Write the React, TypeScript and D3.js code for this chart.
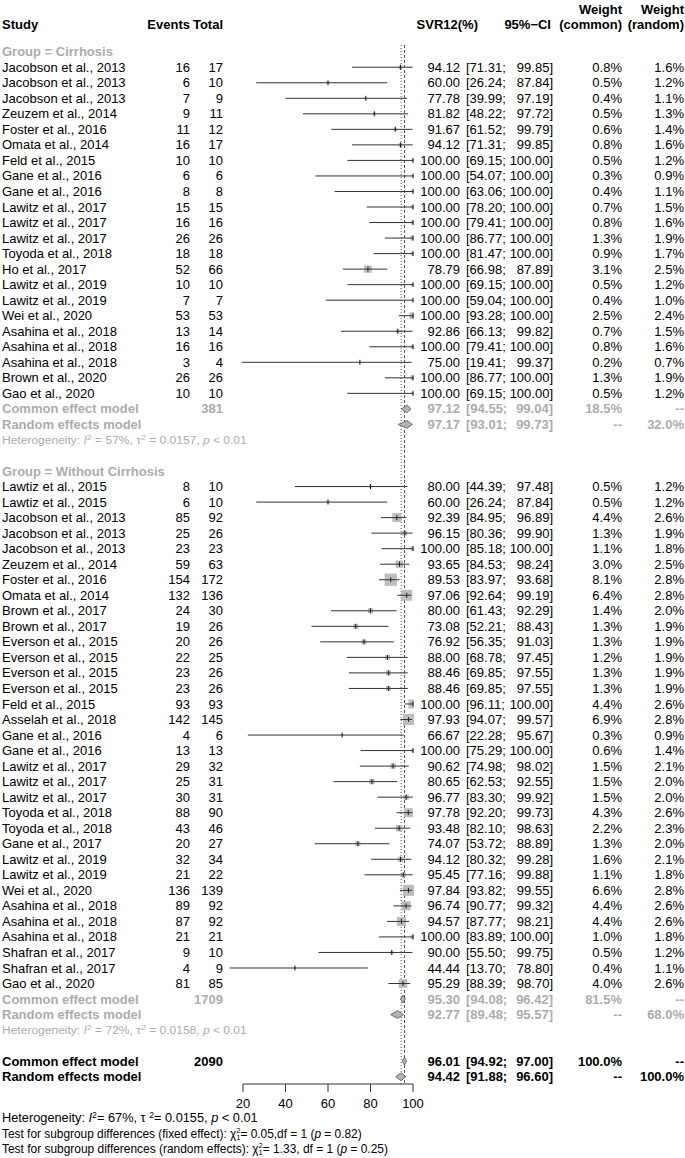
import React, { useLayoutEffect, useRef, useState } from "react";
import * as d3 from "d3";

const W = 685;
const H = 1158;

// ---------- data ----------
const cirStudies = ["Jacobson et al., 2013","Jacobson et al., 2013","Jacobson et al., 2013","Zeuzem et al., 2014","Foster et al., 2016","Omata et al., 2014","Feld et al., 2015","Gane et al., 2016","Gane et al., 2016","Lawitz et al., 2017","Lawitz et al., 2017","Lawitz et al., 2017","Toyoda et al., 2018","Ho et al., 2017","Lawitz et al., 2019","Lawitz et al., 2019","Wei et al., 2020","Asahina et al., 2018","Asahina et al., 2018","Asahina et al., 2018","Brown et al., 2020","Gao et al., 2020"];
const cirEvents = [16,6,7,9,11,16,10,6,8,15,16,26,18,52,10,7,53,13,16,3,26,10];
const cirTotal = [17,10,9,11,12,17,10,6,8,15,16,26,18,66,10,7,53,14,16,4,26,10];
const cirEst = [94.12,60.0,77.78,81.82,91.67,94.12,100,100,100,100,100,100,100,78.79,100,100,100,92.86,100,75.0,100,100];
const cirLower = [71.31,26.24,39.99,48.22,61.52,71.31,69.15,54.07,63.06,78.2,79.41,86.77,81.47,66.98,69.15,59.04,93.28,66.13,79.41,19.41,86.77,69.15];
const cirUpper = [99.85,87.84,97.19,97.72,99.79,99.85,100,100,100,100,100,100,100,87.89,100,100,100,99.82,100,99.37,100,100];
const cirWCommon = [0.8,0.5,0.4,0.5,0.6,0.8,0.5,0.3,0.4,0.7,0.8,1.3,0.9,3.1,0.5,0.4,2.5,0.7,0.8,0.2,1.3,0.5];
const cirWRandom = [1.6,1.2,1.1,1.3,1.4,1.6,1.2,0.9,1.1,1.5,1.6,1.9,1.7,2.5,1.2,1.0,2.4,1.5,1.6,0.7,1.9,1.2];

const nonStudies = ["Lawtiz et al., 2015","Lawtiz et al., 2015","Jacobson et al., 2013","Jacobson et al., 2013","Jacobson et al., 2013","Zeuzem et al., 2014","Foster et al., 2016","Omata et al., 2014","Brown et al., 2017","Brown et al., 2017","Everson et al., 2015","Everson et al., 2015","Everson et al., 2015","Everson et al., 2015","Feld et al., 2015","Asselah et al., 2018","Gane et al., 2016","Gane et al., 2016","Lawitz et al., 2017","Lawitz et al., 2017","Lawitz et al., 2017","Toyoda et al., 2018","Toyoda et al., 2018","Gane et al., 2017","Lawitz et al., 2019","Lawitz et al., 2019","Wei et al., 2020","Asahina et al., 2018","Asahina et al., 2018","Asahina et al., 2018","Shafran et al., 2017","Shafran et al., 2017","Gao et al., 2020"];
const nonEvents = [8,6,85,25,23,59,154,132,24,19,20,22,23,23,93,142,4,13,29,25,30,88,43,20,32,21,136,89,87,21,9,4,81];
const nonTotal = [10,10,92,26,23,63,172,136,30,26,26,25,26,26,93,145,6,13,32,31,31,90,46,27,34,22,139,92,92,21,10,9,85];
const nonEst = [80.0,60.0,92.39,96.15,100,93.65,89.53,97.06,80.0,73.08,76.92,88.0,88.46,88.46,100,97.93,66.67,100,90.62,80.65,96.77,97.78,93.48,74.07,94.12,95.45,97.84,96.74,94.57,100,90.0,44.44,95.29];
const nonLower = [44.39,26.24,84.95,80.36,85.18,84.53,83.97,92.64,61.43,52.21,56.35,68.78,69.85,69.85,96.11,94.07,22.28,75.29,74.98,62.53,83.3,92.2,82.1,53.72,80.32,77.16,93.82,90.77,87.77,83.89,55.5,13.7,88.39];
const nonUpper = [97.48,87.84,96.89,99.9,100,98.24,93.68,99.19,92.29,88.43,91.03,97.45,97.55,97.55,100,99.57,95.67,100,98.02,92.55,99.92,99.73,98.63,88.89,99.28,99.88,99.55,99.32,98.21,100,99.75,78.8,98.7];
const nonWCommon = [0.5,0.5,4.4,1.3,1.1,3.0,8.1,6.4,1.4,1.3,1.3,1.2,1.3,1.3,4.4,6.9,0.3,0.6,1.5,1.5,1.5,4.3,2.2,1.3,1.6,1.1,6.6,4.4,4.4,1.0,0.5,0.4,4.0];
const nonWRandom = [1.2,1.2,2.6,1.9,1.8,2.5,2.8,2.8,2.0,1.9,1.9,1.9,1.9,1.9,2.6,2.8,0.9,1.4,2.1,2.0,2.0,2.6,2.3,2.0,2.1,1.8,2.8,2.6,2.6,1.8,1.2,1.1,2.6];

const groupLabels = ["Group = Cirrhosis", "Group = Without Cirrhosis"];
const groupTotals = [381, 1709];
const groupCommonEst = [97.12, 95.3];
const groupCommonLo = [94.55, 94.08];
const groupCommonHi = [99.04, 96.42];
const groupCommonW = [18.5, 81.5];
const groupRandomEst = [97.17, 92.77];
const groupRandomLo = [93.01, 89.48];
const groupRandomHi = [99.73, 95.57];
const groupRandomW = [32.0, 68.0];
const groupI2 = ["57%", "72%"];
const groupTau2 = ["0.0157", "0.0158"];

const overallTotal = 2090;
const overallCommon = [96.01, 94.92, 97.0];
const overallRandom = [94.42, 91.88, 96.6];

const axisTicks = [20, 40, 60, 80, 100];

// ---------- layout ----------
const FONT = "'Liberation Sans', Arial, Helvetica, sans-serif";
const GRAY = "#acacac";
const x = d3.scaleLinear().domain([20, 100]).range([243, 413]);
const rowY = d3.scaleLinear().domain([0, 66]).range([51.7, 1076.7]);
const sq = d3.scaleSqrt().domain([0, 8.1]).range([0, 12.3]);

const COL = { study: 2, events: 190, total: 223, est: 460, ciL: 466, ciR: 553, wc: 622, wr: 684 };

const f2 = (v: number) => v.toFixed(2);
const fw = (v: number) => v.toFixed(1) + "%";

type Row =
  | { kind: "group"; label: string }
  | { kind: "study"; name: string; ev: number; n: number; est: number; lo: number; hi: number; wc: number; wr: number }
  | { kind: "common" | "random"; label: string; total?: number; est: number; lo: number; hi: number; wc: string; wr: string; overall: boolean }
  | { kind: "het"; i2: string; tau2: string }
  | { kind: "blank" };

function buildRows(): Row[] {
  const rows: Row[] = [];
  const groups = [
    [cirStudies, cirEvents, cirTotal, cirEst, cirLower, cirUpper, cirWCommon, cirWRandom],
    [nonStudies, nonEvents, nonTotal, nonEst, nonLower, nonUpper, nonWCommon, nonWRandom],
  ] as any[];
  groups.forEach((g, gi) => {
    rows.push({ kind: "group", label: groupLabels[gi] });
    (g[0] as string[]).forEach((name, i) => {
      rows.push({ kind: "study", name, ev: g[1][i], n: g[2][i], est: g[3][i], lo: g[4][i], hi: g[5][i], wc: g[6][i], wr: g[7][i] });
    });
    rows.push({ kind: "common", label: "Common effect model", total: groupTotals[gi], est: groupCommonEst[gi], lo: groupCommonLo[gi], hi: groupCommonHi[gi], wc: fw(groupCommonW[gi]), wr: "--", overall: false });
    rows.push({ kind: "random", label: "Random effects model", est: groupRandomEst[gi], lo: groupRandomLo[gi], hi: groupRandomHi[gi], wc: "--", wr: fw(groupRandomW[gi]), overall: false });
    rows.push({ kind: "het", i2: groupI2[gi], tau2: groupTau2[gi] });
    rows.push({ kind: "blank" });
  });
  rows.pop();
  rows.push({ kind: "blank" });
  rows.push({ kind: "common", label: "Common effect model", total: overallTotal, est: overallCommon[0], lo: overallCommon[1], hi: overallCommon[2], wc: "100.0%", wr: "--", overall: true });
  rows.push({ kind: "random", label: "Random effects model", est: overallRandom[0], lo: overallRandom[1], hi: overallRandom[2], wc: "--", wr: "100.0%", overall: true });
  return rows;
}

function FitText({ x0, y, width, fontSize, fill, children }: any) {
  const ref = useRef<SVGTextElement>(null);
  const [s, setS] = useState(1);
  useLayoutEffect(() => {
    if (ref.current) {
      const w = ref.current.getBBox().width;
      if (w > 0) setS(width / w);
    }
  }, [width]);
  return (
    <g transform={`translate(${x0},${y}) scale(${s},1)`}>
      <text ref={ref} x={0} y={0} dy="0.35em" fontSize={fontSize} fill={fill}>
        {children}
      </text>
    </g>
  );
}

function ValueCols({ y, r, fill, bold }: any) {
  const weight = bold ? "bold" : "normal";
  return (
    <g fill={fill} fontWeight={weight}>
      <text x={COL.est} y={y} dy="0.35em" textAnchor="end">{f2(r.est)}</text>
      <text x={COL.ciL} y={y} dy="0.35em">{"[" + f2(r.lo) + ";"}</text>
      <text x={COL.ciR} y={y} dy="0.35em" textAnchor="end">{f2(r.hi) + "]"}</text>
      <text x={COL.wc} y={y} dy="0.35em" textAnchor="end">{typeof r.wc === "number" ? fw(r.wc) : r.wc}</text>
      <text x={COL.wr} y={y} dy="0.35em" textAnchor="end">{typeof r.wr === "number" ? fw(r.wr) : r.wr}</text>
    </g>
  );
}

export default function App() {
  const rows = buildRows();
  const axisY = 1084;
  const refTop = 45;
  return (
    <svg width={W} height={H} style={{ position: "absolute", left: 0, top: 0, background: "#fff" }} fontFamily={FONT} fontSize={13}>
      <defs>
        <clipPath id="plotclip">
          <rect x={150} y={0} width={414 - 150} height={H} />
        </clipPath>
      </defs>
      {/* header */}
      <g fontWeight="bold" fill="#000">
        <text x={COL.wc} y={9} dy="0.35em" textAnchor="end">Weight</text>
        <text x={COL.wr} y={9} dy="0.35em" textAnchor="end">Weight</text>
        <text x={COL.study} y={24} dy="0.35em">Study</text>
        <text x={COL.events} y={24} dy="0.35em" textAnchor="end">Events</text>
        <text x={COL.total} y={24} dy="0.35em" textAnchor="end">Total</text>
        <text x={478} y={24} dy="0.35em" textAnchor="end">SVR12(%)</text>
        <text x={551} y={24} dy="0.35em" textAnchor="end">95%−CI</text>
        <text x={COL.wc} y={24} dy="0.35em" textAnchor="end">(common)</text>
        <text x={COL.wr} y={24} dy="0.35em" textAnchor="end">(random)</text>
      </g>

      {/* reference lines */}
      <line x1={x(overallRandom[0])} x2={x(overallRandom[0])} y1={refTop} y2={axisY} stroke="#555" strokeWidth={1} strokeDasharray="1,2" />
      <line x1={x(overallCommon[0])} x2={x(overallCommon[0])} y1={refTop} y2={axisY} stroke="#555" strokeWidth={1} strokeDasharray="3,2" />

      {rows.map((r, i) => {
        const y = rowY(i);
        if (r.kind === "group") {
          return (
            <text key={i} x={COL.study} y={y} dy="0.35em" fontWeight="bold" fill={GRAY}>{r.label}</text>
          );
        }
        if (r.kind === "study") {
          const s = Math.max(sq(r.wc), 1.5);
          return (
            <g key={i}>
              <text x={COL.study} y={y} dy="0.35em">{r.name}</text>
              <text x={COL.events} y={y} dy="0.35em" textAnchor="end">{r.ev}</text>
              <text x={COL.total} y={y} dy="0.35em" textAnchor="end">{r.n}</text>
              <rect clipPath="url(#plotclip)" x={x(r.est) - s / 2} y={y - s / 2} width={s} height={s} fill="#bdbdbd" />
              <line x1={x(r.lo)} x2={x(r.hi)} y1={y} y2={y} stroke="#333" strokeWidth={1} />
              <line x1={x(r.est)} x2={x(r.est)} y1={y - 2.5} y2={y + 2.5} stroke="#222" strokeWidth={1} />
              <ValueCols y={y} r={r} fill="#000" bold={false} />
            </g>
          );
        }
        if (r.kind === "common" || r.kind === "random") {
          const fill = r.overall ? "#000" : GRAY;
          const h = 3.9;
          const d = `M${x(r.lo)},${y} L${x(r.est)},${y - h} L${x(r.hi)},${y} L${x(r.est)},${y + h} Z`;
          return (
            <g key={i}>
              <text x={COL.study} y={y} dy="0.35em" fontWeight="bold" fill={fill}>{r.label}</text>
              {r.total !== undefined && (
                <text x={COL.total} y={y} dy="0.35em" textAnchor="end" fontWeight="bold" fill={fill}>{r.total}</text>
              )}
              <path d={d} fill="#b3b3b3" stroke="#555" strokeWidth={0.8} />
              <ValueCols y={y} r={r} fill={fill} bold={true} />
            </g>
          );
        }
        if (r.kind === "het") {
          return (
            <FitText key={i} x0={COL.study} y={y} width={245} fontSize={11} fill={GRAY}>
              <tspan>Heterogeneity: </tspan>
              <tspan fontStyle="italic">I</tspan>
              <tspan dy={-4} fontSize={8}>2</tspan>
              <tspan dy={4}>{` = ${r.i2}, τ`}</tspan>
              <tspan dy={-4} fontSize={8}>2</tspan>
              <tspan dy={4}>{` = ${r.tau2}, `}</tspan>
              <tspan fontStyle="italic">p</tspan>
              <tspan>{" < 0.01"}</tspan>
            </FitText>
          );
        }
        return null;
      })}

      {/* axis */}
      <g>
        <line x1={x(axisTicks[0])} x2={x(axisTicks[axisTicks.length - 1])} y1={axisY} y2={axisY} stroke="#333" />
        {axisTicks.map((t) => (
          <g key={t}>
            <line x1={x(t)} x2={x(t)} y1={axisY} y2={axisY + 8} stroke="#333" />
            <text x={x(t)} y={1103} dy="0.35em" textAnchor="middle">{t}</text>
          </g>
        ))}
      </g>

      {/* footer */}
      <FitText x0={2} y={1118} width={256} fontSize={12.5} fill="#000">
        <tspan>Heterogeneity: </tspan>
        <tspan fontStyle="italic">I</tspan>
        <tspan dy={-4.5} fontSize={8.5}>2</tspan>
        <tspan dy={4.5}>{"= 67%, τ "}</tspan>
        <tspan dy={-4.5} fontSize={8.5}>2</tspan>
        <tspan dy={4.5}>{"= 0.0155, "}</tspan>
        <tspan fontStyle="italic">p</tspan>
        <tspan>{" < 0.01"}</tspan>
      </FitText>
      <FitText x0={2} y={1133.5} width={360} fontSize={12.5} fill="#000">
        <tspan>Test for subgroup differences (fixed effect): χ</tspan>
        <tspan dy={2.5} fontSize={8}>1</tspan>
        <tspan dx={-4.5} dy={-7} fontSize={8}>2</tspan>
        <tspan dy={4.5}>{"= 0.05,df = 1 ("}</tspan>
        <tspan fontStyle="italic">p</tspan>
        <tspan>{" = 0.82)"}</tspan>
      </FitText>
      <FitText x0={2} y={1148.5} width={386} fontSize={12.5} fill="#000">
        <tspan>Test for subgroup differences (random effects): χ</tspan>
        <tspan dy={2.5} fontSize={8}>1</tspan>
        <tspan dx={-4.5} dy={-7} fontSize={8}>2</tspan>
        <tspan dy={4.5}>{"= 1.33, df = 1 ("}</tspan>
        <tspan fontStyle="italic">p</tspan>
        <tspan>{" = 0.25)"}</tspan>
      </FitText>
    </svg>
  );
}
